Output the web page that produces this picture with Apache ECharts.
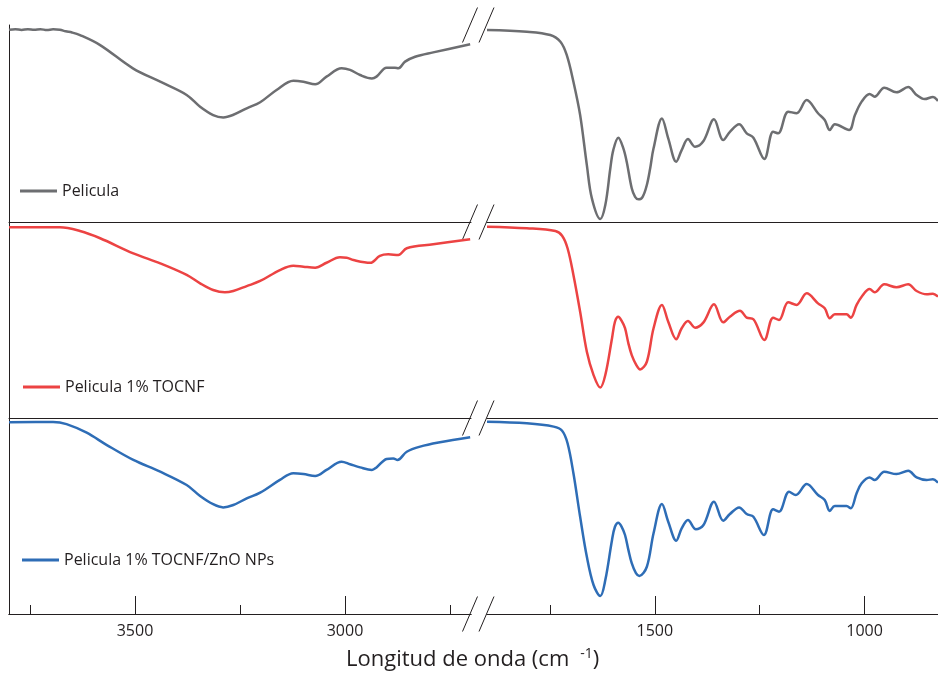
<!DOCTYPE html>
<html>
<head>
<meta charset="utf-8">
<script src="https://cdn.jsdelivr.net/npm/echarts@6/dist/echarts.min.js"></script>
<style>
html,body{margin:0;padding:0;background:#fff}
#chart{width:938px;height:677px}
</style>
</head>
<body>
<div id="chart"></div>
<script>
// wavenumber (cm-1), transmittance (arbitrary %)
var peliculaHigh = [[3800,97.6],[3785,97.9],[3770,97.5],[3755,97.9],[3740,97.6],[3725,97.9],[3710,97.4],[3695,97.8],[3679,97.6],[3665,96.8],[3650,96.2],[3631,94.9],[3583,89.8],[3505,78.0],[3440,71.2],[3377,64.5],[3345,58.5],[3314,54.3],[3290,53.1],[3267,54.3],[3234,57.7],[3202,60.8],[3163,67.0],[3123,71.7],[3099,71.2],[3071,69.9],[3044,73.8],[3008,78.0],[2988,77.2],[2964,74.6],[2936,72.9],[2925,73.8],[2901,78.3],[2881,78.3],[2873,78.0],[2857,81.4],[2833,83.9],[2790,86.1],[2702,90.2]];
var peliculaLow = [[1900,97.5],[1805,96.6],[1749,94.9],[1725,91.5],[1710,84.8],[1694,71.2],[1678,54.3],[1662,28.9],[1650,12.0],[1630,1.5],[1618,8.6],[1606,27.3],[1599,36.5],[1587,42.8],[1575,37.4],[1567,30.6],[1555,17.1],[1547,12.8],[1539,11.5],[1529,12.8],[1519,18.8],[1511,27.3],[1503,37.4],[1483,52.6],[1468,42.5],[1449,30.6],[1436,36.5],[1421,42.1],[1404,38.2],[1384,41.1],[1359,52.1],[1337,41.6],[1321,45.8],[1299,49.6],[1281,45.0],[1265,42.8],[1239,32.0],[1218,45.8],[1206,45.0],[1182,56.0],[1162,55.2],[1138,61.9],[1111,55.2],[1095,51.8],[1083,46.7],[1071,49.6],[1037,46.7],[1023,54.3],[1007,61.1],[988,65.0],[976,63.6],[953,68.2],[924,65.8],[896,68.5],[876,64.5],[857,62.4],[837,63.5],[825,61.4]];

var tocnfHigh = [[3800,97.3],[3679,97.3],[3631,95.4],[3583,91.7],[3504,84.0],[3440,78.9],[3377,73.0],[3345,68.7],[3314,65.3],[3286,64.1],[3266,64.8],[3234,67.3],[3202,69.9],[3155,75.5],[3123,77.7],[3099,77.2],[3071,76.7],[3044,79.2],[3012,82.0],[2996,81.8],[2980,80.6],[2940,79.2],[2917,82.7],[2897,83.5],[2873,83.2],[2853,86.6],[2790,88.6],[2702,91.2]];
var tocnfLow = [[1900,97.6],[1805,96.8],[1737,95.4],[1721,93.0],[1708,86.6],[1694,73.0],[1678,54.2],[1662,33.8],[1646,21.9],[1630,15.5],[1618,21.9],[1602,40.7],[1595,49.1],[1587,51.7],[1579,49.5],[1571,45.8],[1563,38.1],[1555,32.1],[1544,27.0],[1535,24.8],[1519,28.7],[1503,45.8],[1483,57.7],[1468,49.1],[1449,40.2],[1436,45.8],[1421,49.5],[1404,46.1],[1384,48.8],[1359,58.0],[1337,48.8],[1321,51.7],[1297,54.7],[1281,51.2],[1265,50.4],[1239,39.8],[1218,51.2],[1204,50.0],[1182,59.0],[1162,57.7],[1138,63.6],[1111,58.5],[1095,56.0],[1083,50.9],[1071,52.9],[1043,52.9],[1033,51.2],[1019,57.7],[1007,61.9],[988,65.8],[976,64.1],[953,68.2],[924,66.7],[896,68.2],[876,64.8],[852,63.1],[837,63.4],[825,61.9]];

var znoHigh = [[3800,97.8],[3695,98.0],[3663,96.9],[3615,92.5],[3567,86.2],[3504,78.6],[3440,72.6],[3377,65.8],[3345,60.2],[3314,56.0],[3290,54.4],[3266,55.6],[3234,59.0],[3202,61.9],[3155,68.4],[3123,71.8],[3099,71.4],[3071,70.4],[3044,73.5],[3008,77.7],[2988,76.4],[2964,74.8],[2936,73.5],[2925,74.8],[2901,79.1],[2885,79.4],[2875,78.6],[2853,82.8],[2821,85.4],[2774,87.6],[2702,90.2]];
var znoLow = [[1900,98.1],[1805,97.3],[1741,95.6],[1721,93.5],[1708,87.1],[1694,71.8],[1678,49.6],[1662,29.2],[1646,14.8],[1630,9.2],[1618,17.3],[1602,37.8],[1595,44.5],[1587,46.6],[1579,44.5],[1571,40.3],[1563,32.7],[1555,25.9],[1545,20.8],[1537,19.4],[1519,24.1],[1503,41.2],[1483,56.1],[1468,47.1],[1449,37.4],[1436,43.7],[1421,48.0],[1402,43.2],[1384,45.4],[1359,57.3],[1337,47.6],[1321,51.0],[1299,54.4],[1281,51.0],[1265,49.6],[1240,40.3],[1218,53.4],[1204,52.2],[1180,62.4],[1164,60.7],[1138,66.3],[1111,60.7],[1095,58.2],[1083,52.6],[1071,55.1],[1043,55.1],[1033,53.9],[1019,61.6],[1007,66.7],[988,69.7],[976,68.4],[953,72.6],[924,71.4],[896,73.1],[876,69.7],[852,68.4],[837,68.7],[825,67.0]];

var seriesNames = ['Pelicula', 'Pelicula 1% TOCNF', 'Pelicula 1% TOCNF/ZnO NPs'];
var seriesHigh = [peliculaHigh, tocnfHigh, znoHigh];
var seriesLow = [peliculaLow, tocnfLow, znoLow];

var highRange = [2700, 3800];
var lowRange = [825, 1900];
var highTicks = [3500, 3000];
var highMinorTicks = [3750, 3250, 2750];
var lowTicks = [1500, 1000];
var lowMinorTicks = [1750, 1250];

var colors = ['#6d6e71', '#ec4343', '#2e6db6'];
var font = 'Open Sans';
var ink = '#231f20';

var dom = document.getElementById('chart');
var myChart = echarts.init(dom);

var panelTop = [25, 222, 418];
var panelHeight = [197, 196, 196];
var legendPos = [[20, 183], [23, 379], [22, 552]];

var grids = [], xAxes = [], yAxes = [], series = [], legends = [];

for (var p = 0; p < 3; p++) {
    grids.push({left: 9, top: panelTop[p], width: 462, height: panelHeight[p]});
    grids.push({left: 487, top: panelTop[p], width: 451, height: panelHeight[p]});
    for (var s = 0; s < 2; s++) {
        var g = p * 2 + s;
        var range = s === 0 ? highRange : lowRange;
        xAxes.push({
            type: 'value', gridIndex: g, position: 'top', inverse: true,
            min: range[0], max: range[1],
            axisLine: {show: true, lineStyle: {color: ink, width: 1}},
            axisTick: {show: false}, axisLabel: {show: false}, splitLine: {show: false}
        });
        yAxes.push({
            type: 'value', gridIndex: g, min: 0, max: 100,
            axisLine: {show: s === 0, lineStyle: {color: ink, width: 1}},
            axisTick: {show: false}, axisLabel: {show: false}, splitLine: {show: false}
        });
        series.push({
            name: seriesNames[p], type: 'line',
            xAxisIndex: g, yAxisIndex: g,
            data: s === 0 ? seriesHigh[p] : seriesLow[p],
            showSymbol: false, symbol: 'none', smooth: 0.35, clip: false,
            lineStyle: {color: colors[p], width: 2.5},
            itemStyle: {color: colors[p]}
        });
    }
    legends.push({
        data: [seriesNames[p]], left: legendPos[p][0], top: legendPos[p][1],
        padding: 0, icon: 'rect', itemWidth: 37, itemHeight: 3,
        selectedMode: false,
        textStyle: {fontSize: 16, color: ink, fontFamily: font}
    });
}

// bottom axes of the last panel: major ticks with labels, then minor ticks
function bottomAxis(g, range, ticks, len, labels) {
    return {
        type: 'value', gridIndex: g, position: 'bottom', inverse: true,
        min: range[0], max: range[1],
        axisLine: {show: labels, lineStyle: {color: ink, width: 1}},
        axisTick: {show: true, inside: true, length: len, customValues: ticks, lineStyle: {color: ink, width: 1}},
        axisLabel: {
            show: labels, customValues: ticks, margin: 9, fontSize: 16, color: ink, fontFamily: font,
            formatter: function(v){ return String(v); }
        },
        splitLine: {show: false}
    };
}
xAxes.push(bottomAxis(4, highRange, highTicks, 18, true));
xAxes.push(bottomAxis(4, highRange, highMinorTicks, 9, false));
xAxes.push(bottomAxis(5, lowRange, lowTicks, 18, true));
xAxes.push(bottomAxis(5, lowRange, lowMinorTicks, 9, false));

// axis break marks
var breakLines = [];
[25, 222, 418, 614].forEach(function(y){
    [470, 486.5].forEach(function(x){
        breakLines.push({
            type: 'line', silent: true,
            shape: {x1: x + 7.5, y1: y - 17.5, x2: x - 7.5, y2: y + 17.5},
            style: {stroke: ink, lineWidth: 1}
        });
    });
});

var option = {
    animation: false,
    title: {
        text: 'Longitud de onda (cm{sup|   -1})',
        left: 346, top: 647, padding: 0,
        textStyle: {
            fontSize: 22, fontWeight: 'normal', color: ink, fontFamily: font, lineHeight: 26,
            rich: {sup: {fontSize: 14, fontFamily: font, color: ink, verticalAlign: 'top', lineHeight: 15}}
        }
    },
    legend: legends,
    grid: grids,
    xAxis: xAxes,
    yAxis: yAxes,
    graphic: breakLines,
    series: series
};

myChart.setOption(option);
window.addEventListener('resize', function(){
    myChart.resize();
});
</script>
</body>
</html>
